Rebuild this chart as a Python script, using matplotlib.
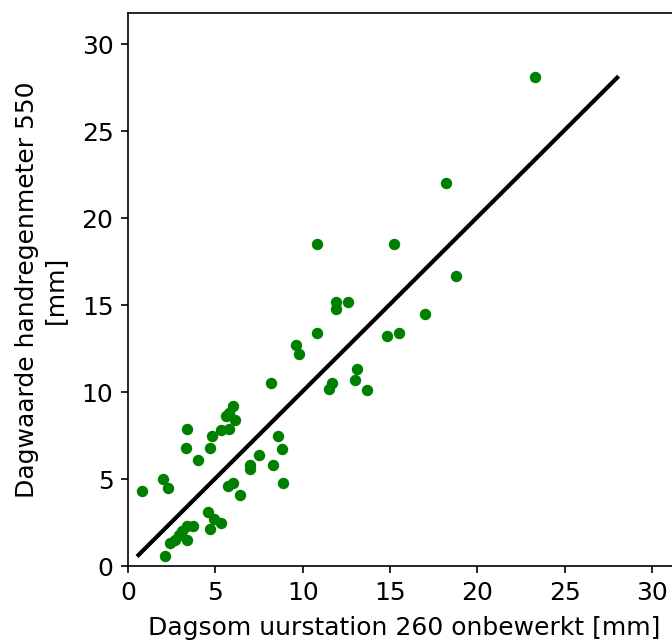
import matplotlib
matplotlib.use("Agg")
import matplotlib.pyplot as plt

# daily totals: hourly station 260 (x) vs manual rain gauge 550 (y), mm
uurstation = [0.8, 2.0, 2.3, 2.1, 2.4, 2.7, 2.9, 3.1, 3.4, 3.4, 3.7,
              4.6, 4.9, 5.3, 4.7, 5.7, 6.0, 6.4, 7.0, 7.0, 7.5, 8.3,
              8.9, 8.8, 8.6, 3.3, 3.4, 4.0, 4.7, 4.8, 5.3, 5.8, 5.6,
              5.8, 6.0, 6.1, 8.2, 9.6, 9.8, 10.8, 10.8, 11.5, 11.7,
              13.0, 13.1, 13.7, 11.9, 11.9, 12.6, 14.8, 15.5, 15.2,
              17.0, 18.8, 18.2, 23.3]
handregen = [4.3, 5.0, 4.5, 0.6, 1.3, 1.5, 1.8, 2.0, 2.3, 1.5, 2.3,
             3.1, 2.7, 2.5, 2.1, 4.6, 4.8, 4.1, 5.8, 5.6, 6.4, 5.8,
             4.8, 6.7, 7.5, 6.8, 7.9, 6.1, 6.8, 7.5, 7.8, 7.9, 8.6,
             8.8, 9.2, 8.4, 10.5, 12.7, 12.2, 13.4, 18.5, 10.2, 10.5,
             10.7, 11.3, 10.1, 15.2, 14.8, 15.2, 13.2, 13.4, 18.5,
             14.5, 16.7, 22.0, 28.1]

# fitted line (end points)
lijn_x = [0.6, 28.0]
lijn_y = [0.63, 28.08]

plt.rcParams["font.size"] = 12

fig = plt.figure(figsize=(672 / 150, 644 / 150), dpi=150)
ax = fig.add_axes([128 / 672, 78 / 644, 552 / 672, 553 / 644])

ax.scatter(uurstation, handregen, s=20, color="green", zorder=3)
ax.plot(lijn_x, lijn_y, color="black", linewidth=2, zorder=2)

ax.set_xlim(0, 31.6)
ax.set_ylim(0, 31.8)
ax.set_xticks([0, 5, 10, 15, 20, 25, 30])
ax.set_yticks([0, 5, 10, 15, 20, 25, 30])

ax.set_xlabel("Dagsom uurstation 260 onbewerkt [mm]", labelpad=5.5)
ax.set_ylabel("Dagwaarde handregenmeter 550\n[mm]", labelpad=7)

fig.savefig("out.png", dpi=150)
